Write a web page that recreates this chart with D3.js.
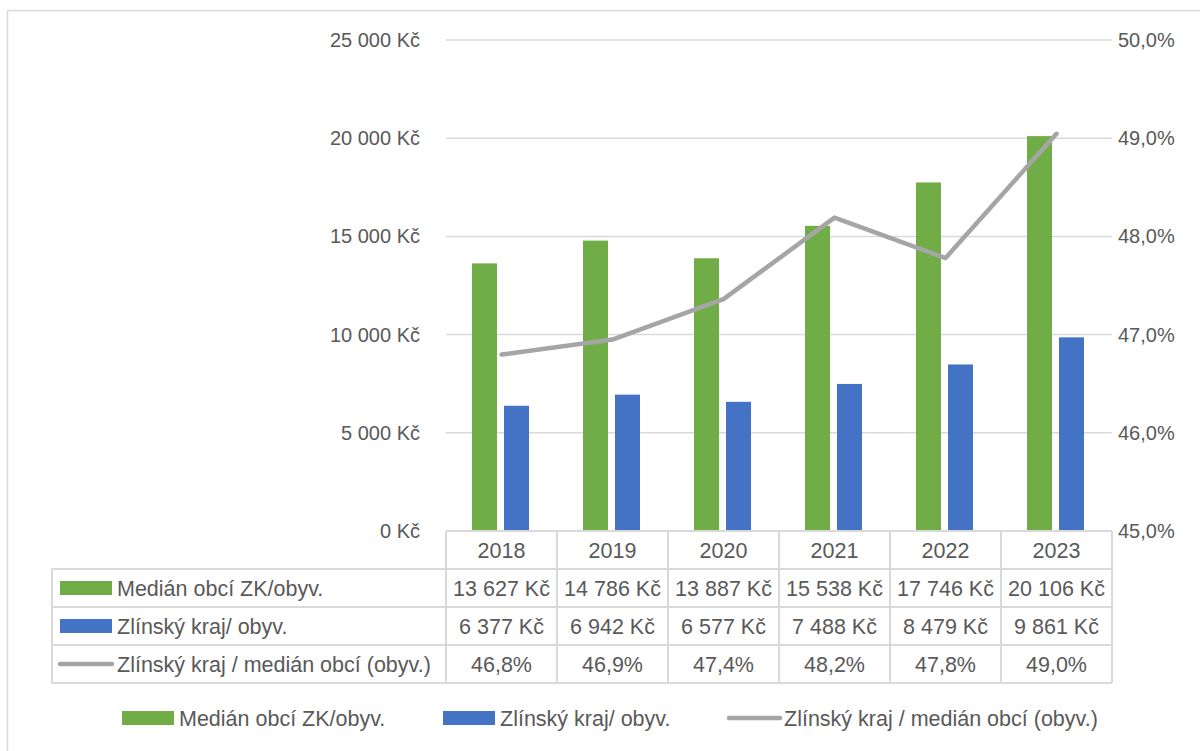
<!DOCTYPE html>
<html><head><meta charset="utf-8">
<script src="https://cdn.jsdelivr.net/npm/d3@7"></script>
<style>
html,body{margin:0;padding:0;background:#fff;}
svg{display:block;font-family:"Liberation Sans",Arial,sans-serif;}
</style></head>
<body><svg id="c" width="1200" height="751"></svg>
<script>
const years = ["2018","2019","2020","2021","2022","2023"];
const medianObci = [13627,14786,13887,15538,17746,20106];
const zlinskyKraj = [6377,6942,6577,7488,8479,9861];
const ratio = [0.467968,0.469498,0.473608,0.481915,0.477797,0.490451];
const leftTicks = [0,5000,10000,15000,20000,25000];
const rightTicks = [0.45,0.46,0.47,0.48,0.49,0.50];
const seriesNames = ["Medián obcí ZK/obyv.","Zlínský kraj/ obyv.","Zlínský kraj / medián obcí (obyv.)"];
const colors = ["#70ad47","#4472c4","#a5a5a5"];

const loc = d3.formatLocale({decimal:",",thousands:"\u00a0",grouping:[3],currency:["","\u00a0Kč"]});
const fKc = v => loc.format(",.0f")(v) + "\u00a0Kč";
const fPct = loc.format(".1%");

const svg = d3.select("#c");
const textCol = "#595959", gridCol = "#d9d9d9";
const FS = 20, TFS = 21.5;

// outer chart border
svg.append("rect").attr("x",7.5).attr("y",10.5).attr("width",1300).attr("height",900)
  .attr("fill","none").attr("stroke",gridCol).attr("stroke-width",1.5);

const x0 = 446, x1 = 1112, yTop = 40, yBot = 531;
const x = d3.scaleBand().domain(years).range([x0,x1]).padding(0);
const yL = d3.scaleLinear().domain([0,25000]).range([yBot,yTop]);
const yR = d3.scaleLinear().domain([0.45,0.50]).range([yBot,yTop]);

// gridlines
svg.append("g").selectAll("line").data(leftTicks).join("line")
  .attr("x1",x0).attr("x2",x1).attr("y1",d=>yL(d)).attr("y2",d=>yL(d))
  .attr("stroke",gridCol).attr("stroke-width",1.5);

// left axis
const gl = svg.append("g").attr("transform",`translate(${x0-26},0)`)
  .call(d3.axisLeft(yL).tickValues(leftTicks).tickFormat(fKc).tickSize(0).tickPadding(0));
gl.select(".domain").remove();
gl.selectAll("text").attr("font-size",FS).attr("fill",textCol).attr("font-family","Liberation Sans, Arial, sans-serif");

// right axis
const gr = svg.append("g").attr("transform",`translate(${x1+6},0)`)
  .call(d3.axisRight(yR).tickValues(rightTicks).tickFormat(fPct).tickSize(0).tickPadding(0));
gr.select(".domain").remove();
gr.selectAll("text").attr("font-size",FS).attr("fill",textCol).attr("font-family","Liberation Sans, Arial, sans-serif");

// bars
const barW = 25, gap = 7;
const bars = [medianObci, zlinskyKraj];
bars.forEach((arr,si)=>{
  svg.append("g").selectAll("rect").data(arr).join("rect")
    .attr("x",(d,i)=>x(years[i])+x.bandwidth()/2 - 1 + (si===0 ? -(barW+gap/2) : gap/2))
    .attr("width",barW)
    .attr("y",d=>yL(d)).attr("height",d=>yBot-yL(d))
    .attr("fill",colors[si]);
});

// line
const line = d3.line().x((d,i)=>x(years[i])+x.bandwidth()/2).y(d=>yR(d));
svg.append("path").datum(ratio).attr("d",line).attr("fill","none")
  .attr("stroke",colors[2]).attr("stroke-width",4.5).attr("stroke-linecap","round").attr("stroke-linejoin","round");

// data table
const tLeft = 52, rowH = 38, tTop = yBot;
const rows = [medianObci.map(fKc), zlinskyKraj.map(fKc), ratio.map(fPct)];
const tg = svg.append("g");
const lineAttr = s => s.attr("stroke",gridCol).attr("stroke-width",2);
tg.append("line").attr("x1",x0).attr("x2",x1).attr("y1",tTop).attr("y2",tTop).call(lineAttr);
[0,1,2,3].forEach(r=>{
  const yy = tTop + rowH*(r+1);
  tg.append("line").attr("x1", tLeft).attr("x2",x1).attr("y1",yy).attr("y2",yy).call(lineAttr);
});
tg.append("line").attr("x1",tLeft).attr("x2",tLeft).attr("y1",tTop+rowH).attr("y2",tTop+rowH*4).call(lineAttr);
years.forEach((yr,i)=>{
  tg.append("line").attr("x1",x(yr)).attr("x2",x(yr)).attr("y1",tTop).attr("y2",tTop+rowH*4).call(lineAttr);
});
tg.append("line").attr("x1",x1).attr("x2",x1).attr("y1",tTop).attr("y2",tTop+rowH*4).call(lineAttr);

tg.selectAll("text.yr").data(years).join("text").attr("class","yr")
  .attr("x",d=>x(d)+x.bandwidth()/2).attr("y",tTop+rowH/2).attr("dy","0.35em")
  .attr("text-anchor","middle").attr("font-size",TFS).attr("fill",textCol).text(d=>d);
rows.forEach((vals,r)=>{
  const cy = tTop + rowH*(r+1) + rowH/2;
  tg.append("g").selectAll("text").data(vals).join("text")
    .attr("x",(d,i)=>x(years[i])+x.bandwidth()/2).attr("y",cy).attr("dy","0.35em")
    .attr("text-anchor","middle").attr("font-size",TFS).attr("fill",textCol).text(d=>d);
  if (r<2) {
    tg.append("rect").attr("x",60).attr("y",cy-7).attr("width",52).attr("height",14).attr("fill",colors[r]);
  } else {
    tg.append("line").attr("x1",60).attr("x2",112).attr("y1",cy).attr("y2",cy)
      .attr("stroke",colors[2]).attr("stroke-width",4.5).attr("stroke-linecap","round");
  }
  tg.append("text").attr("x",117).attr("y",cy).attr("dy","0.35em")
    .attr("font-size",TFS).attr("fill",textCol).text(seriesNames[r]);
});

// legend
const legY = 718;
const legX = [122, 443, 727];
seriesNames.forEach((n,i)=>{
  const g = svg.append("g");
  if (i<2) g.append("rect").attr("x",legX[i]).attr("y",legY-7).attr("width",52).attr("height",14).attr("fill",colors[i]);
  else g.append("line").attr("x1",legX[i]+2).attr("x2",legX[i]+53).attr("y1",legY).attr("y2",legY)
    .attr("stroke",colors[2]).attr("stroke-width",4.5).attr("stroke-linecap","round");
  g.append("text").attr("x",legX[i]+57).attr("y",legY).attr("dy","0.35em")
    .attr("font-size",TFS).attr("fill",textCol).text(n);
});
</script></body></html>
